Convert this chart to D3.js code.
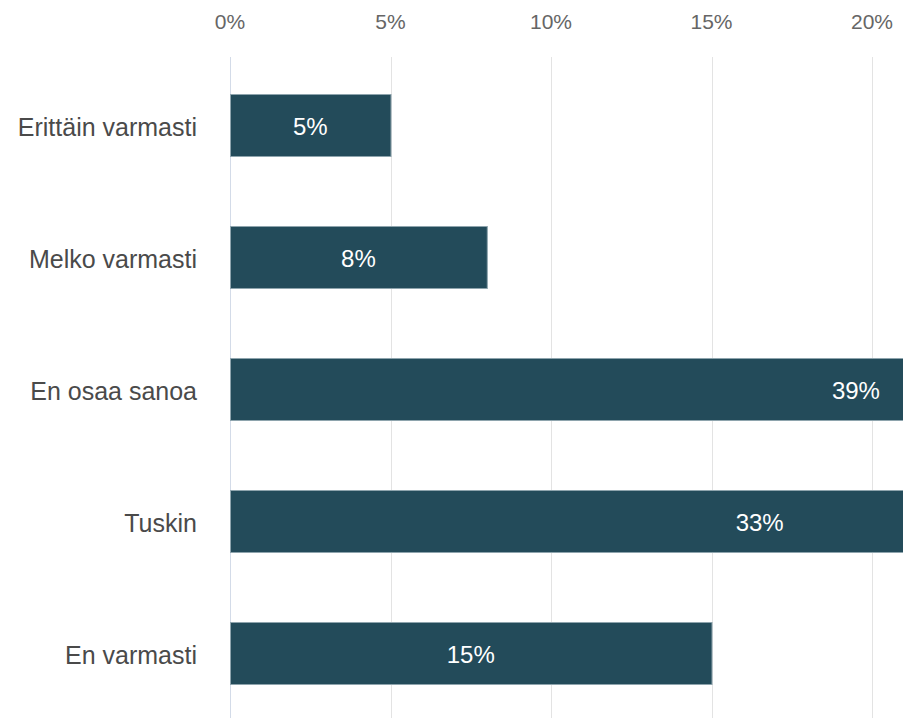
<!DOCTYPE html>
<html>
<head>
<meta charset="utf-8">
<script src="https://cdn.jsdelivr.net/npm/d3@7"></script>
<style>
  body { margin: 0; background: #fff; overflow: hidden; }
  text { font-family: "Liberation Sans", Arial, sans-serif; }
</style>
</head>
<body>
<svg id="chart" width="903" height="718"></svg>
<script>
const categories = ["Erittäin varmasti", "Melko varmasti", "En osaa sanoa", "Tuskin", "En varmasti"];
const values = [5, 8, 39, 33, 15];
const valueLabels = ["5%", "8%", "39%", "33%", "15%"];
const ticks = [0, 5, 10, 15, 20];

const svg = d3.select("#chart");

// chart is wider than the window, right side gets cut off
const x = d3.scaleLinear().domain([0, 40]).range([230, 230 + 40 * 32.1]);
const y = d3.scaleBand().domain(categories).range([59, 719]).paddingInner(0.53).paddingOuter(0.265);

// grid lines
svg.append("g")
  .selectAll("line")
  .data(ticks)
  .join("line")
  .attr("x1", d => Math.round(x(d)) + 0.5)
  .attr("x2", d => Math.round(x(d)) + 0.5)
  .attr("y1", 57)
  .attr("y2", 718)
  .attr("stroke", d => d === 0 ? "#d3dbe8" : "#e3e3e3")
  .attr("stroke-width", 1);

// tick labels on top
svg.append("g")
  .selectAll("text")
  .data(ticks)
  .join("text")
  .attr("x", d => x(d))
  .attr("y", 29)
  .attr("text-anchor", "middle")
  .attr("fill", "#666")
  .attr("font-size", 21)
  .text(d => d + "%");

// category labels
svg.append("g")
  .selectAll("text")
  .data(categories)
  .join("text")
  .attr("x", 197)
  .attr("y", d => y(d) + y.bandwidth() / 2 + 2)
  .attr("dy", ".35em")
  .attr("text-anchor", "end")
  .attr("fill", "#4a4a4a")
  .attr("font-size", 25)
  .text(d => d);

const bars = svg.append("g")
  .selectAll("g")
  .data(categories)
  .join("g");

bars.append("rect")
  .attr("x", x(0) + 0.5)
  .attr("y", d => Math.round(y(d)) + 0.5)
  .attr("width", (d, i) => x(values[i]) - x(0))
  .attr("height", Math.round(y.bandwidth()))
  .attr("fill", "#234b5a")
  .attr("stroke", "#8ea4ad")
  .attr("stroke-width", 1);

bars.append("text")
  .attr("x", (d, i) => (x(0) + x(values[i])) / 2)
  .attr("y", d => y(d) + y.bandwidth() / 2 + 2)
  .attr("dy", ".35em")
  .attr("text-anchor", "middle")
  .attr("fill", "#fff")
  .attr("font-size", 24)
  .text((d, i) => valueLabels[i]);
</script>
</body>
</html>
